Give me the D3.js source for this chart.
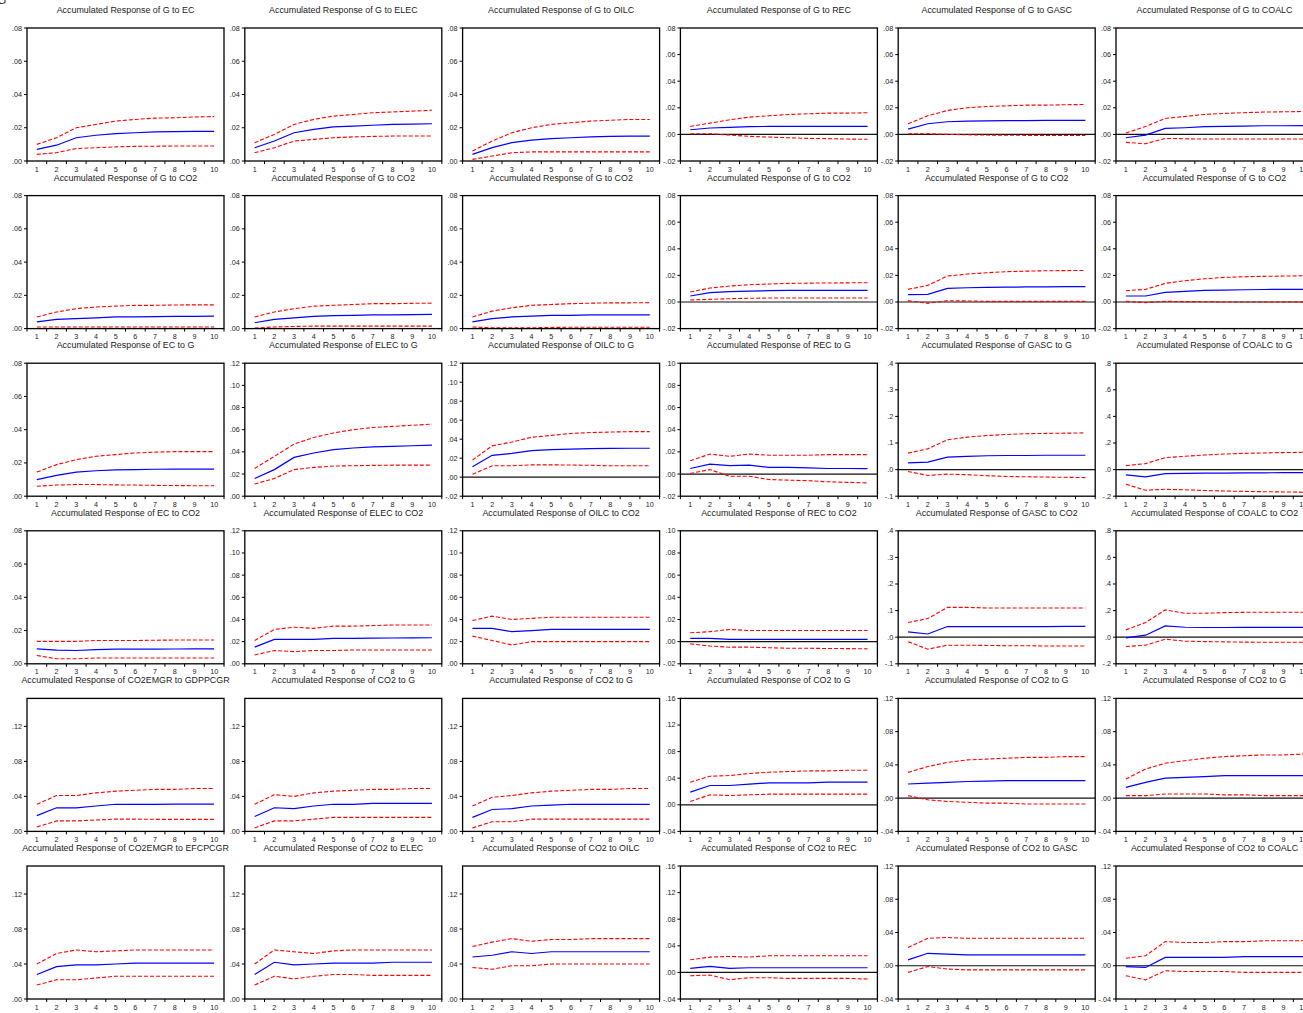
<!DOCTYPE html>
<html>
<head>
<meta charset="utf-8">
<script src="https://cdn.jsdelivr.net/npm/d3@7"></script>
<style>
  body { margin: 0; background: #fff; }
  text { font-family: "Liberation Sans", Arial, sans-serif; }
</style>
</head>
<body>
<div id="chart"></div>
<script>
// horizon (periods after the shock)
const periods = [1, 2, 3, 4, 5, 6, 7, 8, 9, 10];

// 6 x 6 panels, row by row
const titles = [
  "Accumulated Response of G to EC", "Accumulated Response of G to ELEC", "Accumulated Response of G to OILC",
  "Accumulated Response of G to REC", "Accumulated Response of G to GASC", "Accumulated Response of G to COALC",
  "Accumulated Response of G to CO2", "Accumulated Response of G to CO2", "Accumulated Response of G to CO2",
  "Accumulated Response of G to CO2", "Accumulated Response of G to CO2", "Accumulated Response of G to CO2",
  "Accumulated Response of EC to G", "Accumulated Response of ELEC to G", "Accumulated Response of OILC to G",
  "Accumulated Response of REC to G", "Accumulated Response of GASC to G", "Accumulated Response of COALC to G",
  "Accumulated Response of EC to CO2", "Accumulated Response of ELEC to CO2", "Accumulated Response of OILC to CO2",
  "Accumulated Response of REC to CO2", "Accumulated Response of GASC to CO2", "Accumulated Response of COALC to CO2",
  "Accumulated Response of CO2EMGR to GDPPCGR", "Accumulated Response of CO2 to G", "Accumulated Response of CO2 to G",
  "Accumulated Response of CO2 to G", "Accumulated Response of CO2 to G", "Accumulated Response of CO2 to G",
  "Accumulated Response of CO2EMGR to EFCPCGR", "Accumulated Response of CO2 to ELEC", "Accumulated Response of CO2 to OILC",
  "Accumulated Response of CO2 to REC", "Accumulated Response of CO2 to GASC", "Accumulated Response of CO2 to COALC"
];

// y range of every panel
const yDomains = [
  [0, .08], [0, .08], [0, .08], [-.02, .08], [-.02, .08], [-.02, .08],
  [0, .08], [0, .08], [0, .08], [-.02, .08], [-.02, .08], [-.02, .08],
  [0, .08], [0, .12], [-.02, .12], [-.02, .10], [-.1, .4], [-.2, .8],
  [0, .08], [0, .12], [0, .12], [-.02, .10], [-.1, .4], [-.2, .8],
  [0, .152], [0, .152], [0, .152], [-.04, .16], [-.04, .12], [-.04, .12],
  [0, .152], [0, .152], [0, .152], [-.04, .16], [-.04, .12], [-.04, .12]
];

// spacing of the y tick labels
const yTickSteps = [
  .02, .02, .02, .02, .02, .02,
  .02, .02, .02, .02, .02, .02,
  .02, .02, .02, .02, .1, .2,
  .02, .02, .02, .02, .1, .2,
  .04, .04, .04, .04, .04, .04,
  .04, .04, .04, .04, .04, .04
];

// accumulated response (blue)
const responses = [
  [.007, .0095, .014, .0155, .0165, .017, .0175, .0177, .0178, .0178],
  [.008, .012, .017, .019, .0205, .021, .0215, .022, .0222, .0224],
  [.004, .008, .011, .0125, .0135, .014, .0145, .0148, .015, .015],
  [.0035, .0048, .0053, .0058, .006, .006, .006, .006, .006, .006],
  [.004, .008, .0095, .010, .0102, .0103, .0104, .0105, .0105, .0105],
  [-.0025, -.0005, .0045, .005, .0058, .006, .0062, .0065, .0065, .0066],

  [.004, .0055, .006, .0065, .007, .007, .0072, .0073, .0074, .0075],
  [.0035, .0055, .0065, .0073, .0078, .008, .0082, .0083, .0084, .0085],
  [.004, .006, .007, .0075, .008, .008, .0082, .0082, .0083, .0083],
  [.0045, .007, .0078, .0082, .0085, .0087, .0088, .0088, .0088, .0088],
  [.0055, .0058, .0102, .0107, .011, .0112, .0113, .0114, .0115, .0115],
  [.0045, .0045, .0072, .008, .0088, .009, .0092, .0094, .0095, .0095],

  [.010, .0125, .0145, .0153, .0158, .016, .0162, .0163, .0163, .0163],
  [.016, .024, .035, .039, .042, .0435, .0445, .045, .0455, .046],
  [.011, .023, .025, .028, .029, .0295, .030, .0303, .0305, .0305],
  [.005, .009, .0075, .008, .006, .006, .0055, .005, .005, .0048],
  [.025, .028, .047, .050, .052, .053, .053, .054, .054, .054],
  [-.04, -.055, -.03, -.028, -.027, -.026, -.025, -.024, -.023, -.022],

  [.009, .0082, .008, .0085, .0088, .0088, .0088, .0089, .009, .009],
  [.015, .022, .022, .022, .023, .023, .0232, .0233, .0234, .0235],
  [.032, .032, .029, .030, .031, .031, .031, .031, .031, .031],
  [.003, .003, .002, .002, .002, .002, .002, .002, .002, .002],
  [.020, .012, .040, .040, .040, .040, .040, .040, .041, .041],
  [-.005, .015, .085, .075, .073, .073, .074, .074, .074, .074],

  [.018, .027, .027, .029, .031, .031, .031, .0312, .0312, .0312],
  [.017, .027, .026, .029, .031, .031, .032, .032, .032, .032],
  [.016, .025, .026, .029, .030, .031, .031, .031, .031, .031],
  [.019, .029, .029, .031, .033, .033, .033, .034, .034, .034],
  [.017, .018, .019, .020, .0205, .021, .021, .021, .021, .021],
  [.013, .019, .024, .025, .026, .027, .027, .027, .027, .027],

  [.028, .037, .039, .039, .040, .041, .041, .041, .041, .041],
  [.028, .042, .039, .040, .041, .041, .041, .042, .042, .042],
  [.048, .050, .054, .052, .054, .054, .054, .054, .054, .054],
  [.006, .009, .006, .007, .007, .007, .007, .007, .007, .007],
  [.007, .015, .014, .013, .013, .013, .013, .013, .013, .013],
  [-.001, -.002, .010, .010, .010, .010, .011, .011, .011, .011]
];

// -2 S.E. band (red dashed)
const lowerBands = [
  [.004, .005, .0075, .008, .0085, .0088, .0089, .009, .009, .009],
  [.005, .008, .012, .013, .014, .0145, .0148, .015, .015, .015],
  [.001, .003, .005, .0055, .0055, .0055, .0055, .0055, .0055, .0055],
  [.0005, .0005, -.0005, -.0015, -.002, -.0025, -.003, -.0032, -.0035, -.0037],
  [.0005, .0005, 0, -.0003, -.0005, -.0006, -.0007, -.0008, -.0008, -.0008],
  [-.006, -.007, -.003, -.0033, -.0035, -.0035, -.0035, -.0035, -.0035, -.0035],

  [.001, .001, .001, .001, .001, .001, .001, .001, .001, .001],
  [.0003, .001, .0013, .0015, .0015, .0015, .0015, .0015, .0015, .0015],
  [.001, .0005, .0005, .0005, .0007, .0008, .0008, .0008, .0008, .0008],
  [.0015, .002, .0025, .0028, .003, .003, .003, .003, .003, .003],
  [.001, -.001, .001, .0008, .0005, .0005, .0005, .0005, .0005, .0005],
  [.0005, -.0005, .0005, .0003, .0002, 0, 0, 0, 0, 0],

  [.006, .0067, .007, .007, .0068, .0067, .0065, .0064, .0063, .0063],
  [.011, .016, .024, .026, .0272, .0275, .0278, .028, .028, .028],
  [.003, .012, .012, .013, .013, .0128, .0125, .012, .012, .012],
  [.0005, .004, -.002, -.002, -.005, -.0055, -.006, -.007, -.0075, -.008],
  [-.007, -.022, -.017, -.019, -.023, -.026, -.027, -.028, -.029, -.030],
  [-.11, -.155, -.148, -.152, -.157, -.161, -.164, -.166, -.168, -.17],

  [.005, .003, .003, .0035, .0035, .0035, .0035, .0035, .0035, .0035],
  [.008, .012, .011, .012, .012, .0125, .0125, .0125, .0125, .0125],
  [.025, .021, .017, .020, .020, .020, .020, .020, .020, .020],
  [-.002, -.004, -.005, -.005, -.0055, -.006, -.006, -.0062, -.0063, -.0065],
  [-.017, -.045, -.030, -.030, -.031, -.032, -.032, -.033, -.033, -.033],
  [-.07, -.06, -.015, -.03, -.033, -.035, -.037, -.038, -.038, -.038],

  [.005, .012, .012, .013, .014, .014, .0138, .0138, .0138, .0138],
  [.004, .012, .012, .014, .016, .016, .016, .016, .016, .016],
  [.004, .011, .011, .014, .014, .014, .014, .014, .014, .014],
  [.005, .015, .014, .015, .016, .016, .016, .016, .016, .016],
  [.003, -.002, -.004, -.005, -.006, -.006, -.007, -.007, -.007, -.007],
  [.003, .003, .005, .005, .005, .004, .004, .003, .003, .003],

  [.016, .022, .022, .024, .026, .026, .026, .026, .026, .026],
  [.016, .026, .023, .026, .028, .028, .027, .027, .027, .027],
  [.036, .034, .038, .038, .040, .040, .040, .040, .040, .040],
  [-.005, -.004, -.011, -.008, -.008, -.009, -.009, -.009, -.009, -.010],
  [-.008, -.001, -.004, -.005, -.005, -.005, -.005, -.005, -.005, -.005],
  [-.012, -.017, -.006, -.007, -.007, -.007, -.008, -.008, -.008, -.008]
];

// +2 S.E. band (red dashed)
const upperBands = [
  [.010, .014, .020, .022, .024, .025, .0258, .026, .0265, .0267],
  [.011, .016, .022, .025, .027, .028, .029, .0295, .030, .0305],
  [.006, .012, .017, .020, .022, .023, .024, .0245, .025, .025],
  [.006, .0085, .011, .013, .014, .015, .0155, .016, .016, .0163],
  [.008, .014, .018, .020, .021, .0215, .022, .022, .0223, .0225],
  [.001, .006, .012, .0135, .015, .0158, .0163, .0168, .017, .0172],

  [.007, .010, .012, .013, .0135, .014, .014, .0142, .0143, .0143],
  [.007, .010, .012, .0135, .014, .0145, .015, .015, .0152, .0153],
  [.007, .0105, .0125, .014, .0145, .015, .0153, .0155, .0155, .0156],
  [.0075, .0105, .012, .013, .0135, .014, .0142, .0143, .0144, .0145],
  [.0095, .0125, .0195, .021, .022, .0228, .0232, .0235, .0236, .0237],
  [.0085, .0095, .014, .016, .0175, .0185, .019, .0193, .0195, .0197],

  [.0145, .019, .022, .024, .025, .026, .0265, .0268, .0268, .0268],
  [.025, .036, .047, .053, .057, .060, .062, .063, .064, .065],
  [.018, .033, .037, .042, .044, .046, .047, .0475, .048, .048],
  [.012, .018, .016, .018, .017, .017, .017, .0175, .0175, .0175],
  [.062, .078, .112, .122, .128, .132, .135, .136, .137, .138],
  [.03, .045, .09, .10, .11, .117, .122, .125, .128, .13],

  [.0135, .0135, .0135, .014, .014, .014, .0142, .0143, .0143, .0143],
  [.021, .031, .033, .032, .034, .034, .0345, .035, .035, .035],
  [.039, .043, .040, .041, .042, .042, .042, .042, .042, .042],
  [.008, .009, .011, .010, .010, .010, .010, .010, .010, .010],
  [.055, .070, .112, .112, .110, .110, .110, .110, .110, .110],
  [.055, .11, .205, .18, .18, .185, .187, .188, .188, .188],

  [.031, .041, .041, .044, .046, .047, .048, .048, .049, .049],
  [.031, .042, .040, .044, .046, .047, .048, .048, .049, .049],
  [.029, .039, .041, .044, .046, .047, .048, .048, .049, .049],
  [.034, .043, .044, .047, .049, .050, .051, .051, .052, .052],
  [.031, .038, .043, .046, .047, .048, .049, .049, .050, .050],
  [.023, .035, .042, .045, .048, .050, .051, .052, .052, .053],

  [.040, .052, .056, .054, .055, .056, .056, .056, .056, .056],
  [.040, .056, .054, .052, .055, .056, .056, .056, .056, .056],
  [.060, .065, .069, .066, .068, .068, .069, .069, .069, .069],
  [.019, .023, .024, .023, .025, .025, .025, .025, .025, .025],
  [.022, .033, .034, .033, .033, .033, .033, .033, .033, .033],
  [.009, .012, .029, .028, .028, .029, .029, .030, .030, .030]
];

const width = 1303, height = 1013;
const nCols = 6;
const panelW = 197, panelH = 133;

// panel frame positions on the page
const colX = d3.scaleLinear().domain([0, 5]).range([27, 1116]);
const rowY = d3.scaleLinear().domain([0, 5]).range([28, 866]);

const svg = d3.select("#chart").append("svg")
    .attr("width", width)
    .attr("height", height)
    .style("background", "#fff");

// stray clipped glyph in the top-left corner of the source figure
svg.append("text")
    .attr("x", -3).attr("y", 4)
    .attr("font-size", 12)
    .attr("fill", "#333")
    .text("G");

function tickLabel(v, step) {
    let dec = step >= .1 ? 1 : 2;
    let s = d3.format("." + dec + "f")(Math.abs(v) < 1e-9 ? 0 : v);
    return s.replace("\u2212", "-").replace(/^(-?)0\./, "$1.");
}

titles.forEach(function(title, i) {
    let col = i % nCols, row = Math.floor(i / nCols);
    let g = svg.append("g")
        .attr("transform", "translate(" + colX(col) + "," + rowY(row) + ")");

    let x = d3.scalePoint().domain(periods).range([0, panelW]).padding(0.5);
    let band = panelW / periods.length;
    let y = d3.scaleLinear().domain(yDomains[i]).range([panelH, 0]);

    // title
    g.append("text")
        .attr("x", panelW / 2)
        .attr("y", -15)
        .attr("text-anchor", "middle")
        .attr("font-size", 8.9)
        .attr("fill", "#222")
        .text(title);

    // y axis ticks + labels
    let step = yTickSteps[i];
    let ticks = d3.range(Math.ceil(yDomains[i][0] / step - 1e-6), Math.floor(yDomains[i][1] / step + 1e-6) + 1)
        .map(function(k) { return k * step; });
    let yAxis = g.append("g").attr("class", "y-axis");
    yAxis.selectAll("line").data(ticks).enter().append("line")
        .attr("x1", -3).attr("x2", 0)
        .attr("y1", function(d) { return y(d); })
        .attr("y2", function(d) { return y(d); })
        .attr("stroke", "#000").attr("stroke-width", 1);
    yAxis.selectAll("text").data(ticks).enter().append("text")
        .attr("x", -5)
        .attr("y", function(d) { return y(d) + 2.5; })
        .attr("text-anchor", "end")
        .attr("font-size", 7.2)
        .attr("fill", "#222")
        .text(function(d) { return tickLabel(d, step); });

    // x axis: ticks at band edges, labels at band centres
    let xAxis = g.append("g").attr("class", "x-axis");
    xAxis.selectAll("line").data(d3.range(periods.length + 1)).enter().append("line")
        .attr("x1", function(d) { return d * band; })
        .attr("x2", function(d) { return d * band; })
        .attr("y1", panelH).attr("y2", panelH + 3)
        .attr("stroke", "#000").attr("stroke-width", 1);
    xAxis.selectAll("text").data(periods).enter().append("text")
        .attr("x", function(d) { return x(d); })
        .attr("y", panelH + 10.5)
        .attr("text-anchor", "middle")
        .attr("font-size", 7.2)
        .attr("fill", "#222")
        .text(function(d) { return d; });

    // zero line
    if (yDomains[i][0] < 0) {
        g.append("line")
            .attr("x1", 0).attr("x2", panelW)
            .attr("y1", y(0)).attr("y2", y(0))
            .attr("stroke", "#111").attr("stroke-width", 1.2);
    }

    let line = d3.line()
        .x(function(d, k) { return x(periods[k]); })
        .y(function(d) { return y(d); });

    [upperBands[i], lowerBands[i]].forEach(function(band_values) {
        g.append("path").datum(band_values)
            .attr("d", line)
            .attr("fill", "none")
            .attr("stroke", "#ff0000")
            .attr("stroke-width", 1.1)
            .attr("stroke-dasharray", "4,2");
    });
    g.append("path").datum(responses[i])
        .attr("d", line)
        .attr("fill", "none")
        .attr("stroke", "#0000ff")
        .attr("stroke-width", 1.2);

    // frame
    g.append("rect")
        .attr("width", panelW)
        .attr("height", panelH)
        .attr("fill", "none")
        .attr("stroke", "#000")
        .attr("stroke-width", 1.3);
});
</script>
</body>
</html>
